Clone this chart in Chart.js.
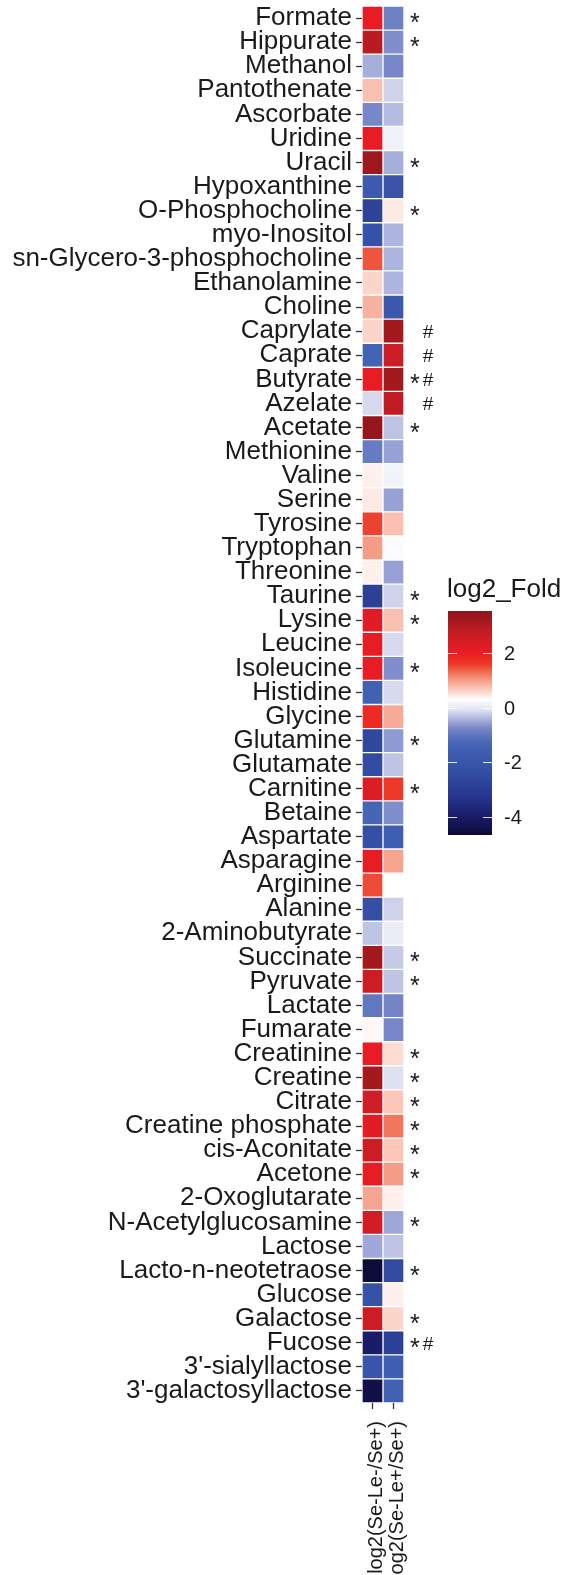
<!DOCTYPE html>
<html>
<head>
<meta charset="utf-8">
<script src="https://cdn.jsdelivr.net/npm/chart.js@4/dist/chart.umd.min.js"></script>
<style>
  body { margin: 0; background: #fff; }
  #wrap { width: 564px; height: 1575px; }
</style>
</head>
<body>
<div id="wrap"><canvas id="myChart" width="564" height="1575"></canvas></div>
<script>
var metabolites = ["Formate", "Hippurate", "Methanol", "Pantothenate", "Ascorbate", "Uridine", "Uracil",
    "Hypoxanthine", "O-Phosphocholine", "myo-Inositol", "sn-Glycero-3-phosphocholine", "Ethanolamine",
    "Choline", "Caprylate", "Caprate", "Butyrate", "Azelate", "Acetate", "Methionine", "Valine", "Serine",
    "Tyrosine", "Tryptophan", "Threonine", "Taurine", "Lysine", "Leucine", "Isoleucine", "Histidine",
    "Glycine", "Glutamine", "Glutamate", "Carnitine", "Betaine", "Aspartate", "Asparagine", "Arginine",
    "Alanine", "2-Aminobutyrate", "Succinate", "Pyruvate", "Lactate", "Fumarate", "Creatinine", "Creatine",
    "Citrate", "Creatine phosphate", "cis-Aconitate", "Acetone", "2-Oxoglutarate", "N-Acetylglucosamine",
    "Lactose", "Lacto-n-neotetraose", "Glucose", "Galactose", "Fucose", "3'-sialyllactose", "3'-galactosyllactose"];

var comparisons = ["log2(Se-Le-/Se+)", "log2(Se-Le+/Se+)"];

// log2 fold, first comparison
var foldLeMinus = [2.1, 2.9, -0.45, 0.75, -0.75, 2.1, 3.3, -1.8, -2.8, -2.2, 1.45, 0.6, 0.85, 0.6, -1.4,
    2.1, -0.15, 3.4, -0.95, 0.4, 0.45, 1.55, 1.0, 0.4, -2.9, 2.2, 2.1, 2.1, -1.5, 1.8, -2.6, -2.4, 2.3,
    -1.3, -2.3, 2.1, 1.5, -2.3, -0.3, 3.2, 2.6, -1.0, 0.35, 2.1, 3.2, 2.5, 2.2, 2.6, 2.1, 0.95, 2.5,
    -0.5, -4.6, -2.2, 2.6, -4.0, -2.0, -4.4];

// log2 fold, second comparison
var foldLePlus = [-0.85, -0.7, -0.75, -0.2, -0.35, 0.1, -0.45, -2.1, 0.45, -0.4, -0.4, -0.4, -1.9, 3.2,
    2.6, 3.2, 2.8, -0.3, -0.55, 0.15, -0.55, 0.75, 0.25, -0.55, -0.2, 0.75, -0.15, -0.7, -0.15, 0.9,
    -0.6, -0.3, 1.6, -0.7, -1.6, 0.95, 0.3, -0.2, 0.05, -0.25, -0.3, -0.8, -0.75, 0.55, -0.1, 0.7, 1.25,
    0.7, 1.0, 0.4, -0.5, -0.3, -2.4, 0.4, 0.6, -2.9, -1.6, -1.5];

var starRows = ["Formate", "Hippurate", "Uracil", "O-Phosphocholine", "Butyrate", "Acetate", "Taurine",
    "Lysine", "Isoleucine", "Glutamine", "Carnitine", "Succinate", "Pyruvate", "Creatinine", "Creatine",
    "Citrate", "Creatine phosphate", "cis-Aconitate", "Acetone", "N-Acetylglucosamine",
    "Lacto-n-neotetraose", "Galactose", "Fucose"];
var hashRows = ["Caprylate", "Caprate", "Butyrate", "Azelate", "Fucose"];

var legendTicks = [2, 0, -2, -4];
var foldMin = -4.66, foldMax = 3.54;

// colour ramp of the fill scale
var colourStops = [
    [-4.66, '#0b0a35'], [-4.0, '#1a1c66'], [-3.2, '#27388f'], [-2.2, '#3651a8'], [-1.3, '#4565b5'],
    [-0.75, '#7887c9'], [-0.4, '#aeb5de'], [-0.1, '#dfe1f1'], [0.3, '#ffffff'], [0.6, '#fcd5ca'],
    [0.95, '#f5a48f'], [1.3, '#ef6f52'], [1.6, '#eb3a2a'], [2.0, '#ec1c24'], [2.6, '#cc1d25'],
    [3.0, '#b11b21'], [3.54, '#8b151a']
];

function hexRgb(h) {
    return [parseInt(h.substr(1, 2), 16), parseInt(h.substr(3, 2), 16), parseInt(h.substr(5, 2), 16)];
}

function foldColour(v) {
    if (v <= colourStops[0][0]) return colourStops[0][1];
    for (var i = 1; i < colourStops.length; i++) {
        if (v <= colourStops[i][0]) {
            var a = colourStops[i - 1], b = colourStops[i];
            var t = (v - a[0]) / (b[0] - a[0]);
            var ca = hexRgb(a[1]), cb = hexRgb(b[1]);
            var c = ca.map(function (x, k) { return Math.round(x + (cb[k] - x) * t); });
            return 'rgb(' + c.join(',') + ')';
        }
    }
    return colourStops[colourStops.length - 1][1];
}

var fontFam = "'Liberation Sans', Arial, sans-serif";

var markerPlugin = {
    id: 'markers',
    afterDatasetsDraw: function (chart) {
        var ctx = chart.ctx, xs = chart.scales.x, ys = chart.scales.y;
        ctx.save();
        ctx.fillStyle = '#1a1a1a';
        ctx.textAlign = 'center';
        ctx.textBaseline = 'alphabetic';
        metabolites.forEach(function (m, i) {
            var y = ys.getPixelForValue(i);
            if (starRows.indexOf(m) >= 0) {
                ctx.font = '25px ' + fontFam;
                ctx.fillText('*', xs.getPixelForValue(2.52), y + 13);
            }
            if (hashRows.indexOf(m) >= 0) {
                ctx.font = '19px ' + fontFam;
                ctx.fillText('#', xs.getPixelForValue(3.15), y + 7);
            }
        });
        ctx.restore();
    }
};

var colourbarPlugin = {
    id: 'colourbar',
    afterDraw: function (chart) {
        var ctx = chart.ctx;
        var left = 448, width = 44, top = 611, bottom = 835;
        function yOf(v) { return top + (foldMax - v) / (foldMax - foldMin) * (bottom - top); }
        ctx.save();
        var grad = ctx.createLinearGradient(0, top, 0, bottom);
        colourStops.slice().reverse().forEach(function (s) {
            grad.addColorStop((yOf(s[0]) - top) / (bottom - top), s[1]);
        });
        ctx.fillStyle = grad;
        ctx.fillRect(left, top, width, bottom - top);
        ctx.strokeStyle = 'rgba(255,255,255,0.85)';
        ctx.lineWidth = 1;
        ctx.fillStyle = '#1a1a1a';
        ctx.font = '20px ' + fontFam;
        ctx.textAlign = 'left';
        ctx.textBaseline = 'middle';
        legendTicks.forEach(function (t) {
            var y = Math.round(yOf(t)) + 0.5;
            ctx.beginPath();
            ctx.moveTo(left, y); ctx.lineTo(left + 9, y);
            ctx.moveTo(left + width - 9, y); ctx.lineTo(left + width, y);
            ctx.stroke();
            ctx.fillText(String(t), 504, y + 1);
        });
        ctx.font = '26px ' + fontFam;
        ctx.textBaseline = 'alphabetic';
        ctx.fillText('log2_Fold', 447, 597);
        ctx.restore();
    }
};

function dropLabelPadding(scale) {
    scale.paddingTop = 0;
    scale.paddingBottom = 0;
    scale.paddingLeft = 0;
    scale.paddingRight = 0;
}

var chartPlaceholder = document.getElementById('myChart');
var heatmap = new Chart(chartPlaceholder, {
    type: 'bar',
    data: {
        labels: metabolites,
        datasets: [
            {
                label: comparisons[0],
                data: metabolites.map(function () { return [0, 1]; }),
                backgroundColor: foldLeMinus.map(foldColour),
                borderColor: 'rgba(255,255,255,0.75)',
                borderWidth: 1,
                borderSkipped: false,
                grouped: false,
                barPercentage: 1,
                categoryPercentage: 1
            },
            {
                label: comparisons[1],
                data: metabolites.map(function () { return [1, 2]; }),
                backgroundColor: foldLePlus.map(foldColour),
                borderColor: 'rgba(255,255,255,0.75)',
                borderWidth: 1,
                borderSkipped: false,
                grouped: false,
                barPercentage: 1,
                categoryPercentage: 1
            }
        ]
    },
    options: {
        indexAxis: 'y',
        responsive: false,
        devicePixelRatio: 1,
        animation: false,
        layout: { autoPadding: false, padding: { top: 6, right: 160, left: 0, bottom: 0 } },
        plugins: {
            legend: { display: false },
            tooltip: { enabled: false }
        },
        scales: {
            y: {
                type: 'category',
                offset: true,
                grid: { offset: false, drawOnChartArea: false, tickLength: 6, color: '#333', tickWidth: 1.3 },
                border: { display: false },
                ticks: {
                    autoSkip: false,
                    padding: 4,
                    color: '#1a1a1a',
                    font: { family: fontFam, size: 26 }
                },
                afterFit: function (scale) {
                    scale.width = 362;
                    dropLabelPadding(scale);
                }
            },
            x: {
                type: 'linear',
                min: 0,
                max: 2,
                grid: { drawOnChartArea: false, tickLength: 6, color: '#333', tickWidth: 1.3 },
                border: { display: false },
                afterBuildTicks: function (scale) {
                    scale.ticks = [{ value: 0.5 }, { value: 1.5 }];
                },
                ticks: {
                    autoSkip: false,
                    minRotation: 90,
                    maxRotation: 90,
                    padding: 12,
                    labelOffset: 4,
                    color: '#1a1a1a',
                    font: { family: fontFam, size: 20 },
                    callback: function (v) { return v < 1 ? comparisons[0] : comparisons[1]; }
                },
                afterFit: function (scale) {
                    scale.height = 172;
                    dropLabelPadding(scale);
                }
            }
        }
    },
    plugins: [markerPlugin, colourbarPlugin]
});
</script>
</body>
</html>
